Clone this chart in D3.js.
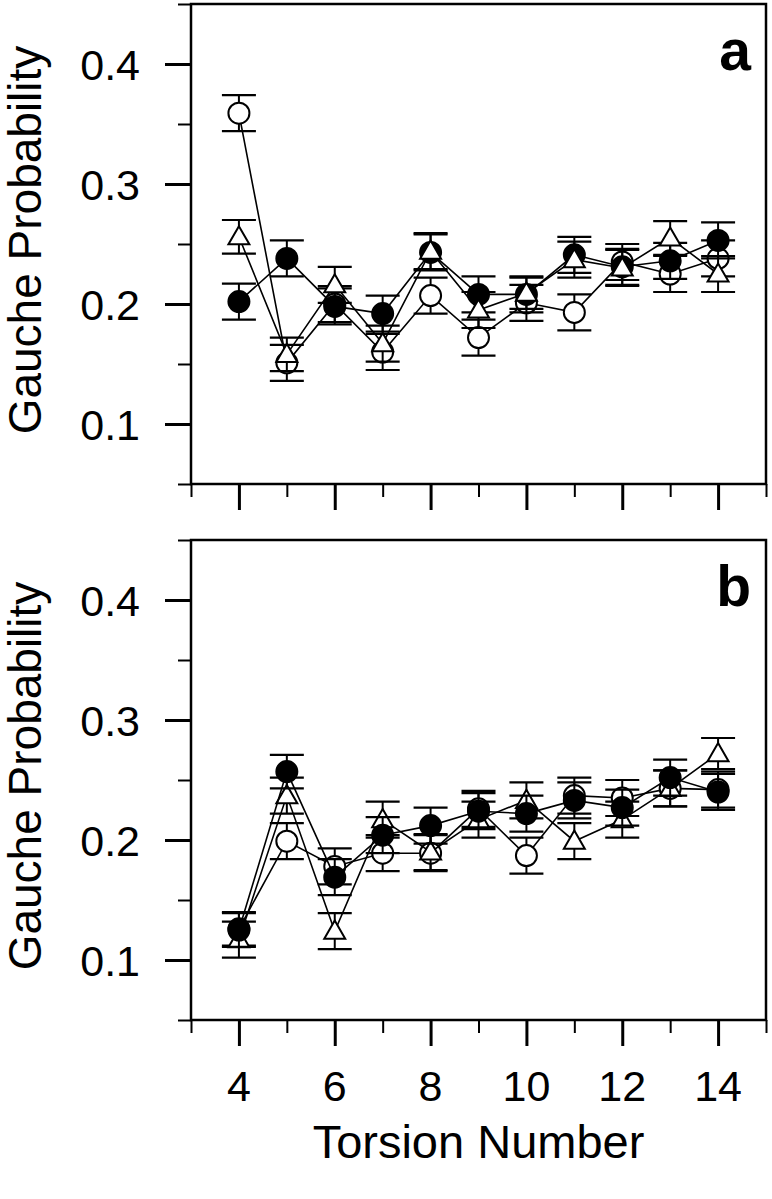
<!DOCTYPE html>
<html>
<head>
<meta charset="utf-8">
<script src="https://cdn.jsdelivr.net/npm/d3@7"></script>
<style>
html,body{margin:0;padding:0;background:#fff;}
svg{display:block;}
text{font-family:"Liberation Sans", Arial, sans-serif;fill:#000;}
</style>
</head>
<body>
<svg id="chart" width="772" height="1199"></svg>
<script>
// ---------------- data ----------------
const torsion = [4,5,6,7,8,9,10,11,12,13,14];

const aFilled = [0.202,0.238,0.198,0.192,0.243,0.208,0.208,0.241,0.231,0.236,0.253];
const aOpen   = [0.359,0.151,0.200,0.160,0.207,0.172,0.201,0.193,0.235,0.225,0.238];
const aTri    = [0.256,0.158,0.216,0.167,0.244,0.195,0.209,0.237,0.230,0.255,0.225];
const aFilledErr = [0.015,0.015,0.015,0.015,0.015,0.015,0.015,0.015,0.015,0.015,0.015];
const aOpenErr   = [0.015,0.015,0.015,0.015,0.015,0.015,0.015,0.015,0.015,0.015,0.015];
const aTriErr    = [0.014,0.014,0.015,0.015,0.015,0.015,0.013,0.015,0.015,0.014,0.015];

const bFilled = [0.125,0.257,0.169,0.204,0.212,0.224,0.222,0.233,0.227,0.252,0.240];
const bOpen   = [0.126,0.199,0.178,0.189,0.189,0.226,0.187,0.237,0.235,0.243,0.242];
const bTri    = [0.117,0.237,0.124,0.217,0.190,0.217,0.233,0.199,0.217,0.243,0.272];
const bFilledErr = [0.014,0.014,0.015,0.015,0.015,0.015,0.015,0.015,0.015,0.015,0.015];
const bOpenErr   = [0.014,0.015,0.015,0.015,0.015,0.015,0.015,0.015,0.015,0.015,0.015];
const bTriErr    = [0.015,0.015,0.015,0.015,0.015,0.015,0.015,0.015,0.015,0.015,0.013];

const xMajorTicks = [4,6,8,10,12,14];
const xMinorTicks = [3,5,7,9,11,13,15];
const yMajorTicks = [0.1,0.2,0.3,0.4];
const yMinorTicks = [0.05,0.15,0.25,0.35,0.45];
const yTitle = "Gauche Probability";
const xTitle = "Torsion Number";

// ---------------- layout ----------------
const svg = d3.select("#chart");
const L = 191, R = 766;
const x = d3.scaleLinear().domain([3,15]).range([L,R]);

const panels = [
  {label:"a", top:4, bottom:484,
   series:[
     {vals:aOpen, err:aOpenErr, shape:"open"},
     {vals:aFilled, err:aFilledErr, shape:"filled"},
     {vals:aTri, err:aTriErr, shape:"tri"}
   ], showLabels:false},
  {label:"b", top:540, bottom:1020,
   series:[
     {vals:bOpen, err:bOpenErr, shape:"open"},
     {vals:bTri, err:bTriErr, shape:"tri"},
     {vals:bFilled, err:bFilledErr, shape:"filled"}
   ], showLabels:true}
];

const triSym = d3.symbol().type(d3.symbolTriangle).size(190);

panels.forEach(p => {
  const y = d3.scaleLinear().domain([0.05,0.45]).range([p.bottom,p.top]);
  const g = svg.append("g");

  // y axis major
  const yMaj = g.append("g").attr("transform",`translate(${L},0)`)
    .call(d3.axisLeft(y).tickValues(yMajorTicks).tickSize(26).tickFormat(d3.format(".1f")).tickPadding(25));
  yMaj.select(".domain").remove();
  yMaj.selectAll("line").attr("stroke","#000").attr("stroke-width",3);
  yMaj.selectAll("text").style("font-size","43px").attr("dy","0.36em");

  const yMin = g.append("g").attr("transform",`translate(${L},0)`)
    .call(d3.axisLeft(y).tickValues(yMinorTicks).tickSize(13).tickFormat(""));
  yMin.select(".domain").remove();
  yMin.selectAll("line").attr("stroke","#000").attr("stroke-width",2);

  // x axis major/minor
  const xMaj = g.append("g").attr("transform",`translate(0,${p.bottom})`)
    .call(d3.axisBottom(x).tickValues(xMajorTicks).tickSize(26).tickFormat(""));
  xMaj.select(".domain").remove();
  xMaj.selectAll("line").attr("stroke","#000").attr("stroke-width",3);

  const xMin = g.append("g").attr("transform",`translate(0,${p.bottom})`)
    .call(d3.axisBottom(x).tickValues(xMinorTicks).tickSize(13).tickFormat(""));
  xMin.select(".domain").remove();
  xMin.selectAll("line").attr("stroke","#000").attr("stroke-width",2);

  if (p.showLabels) {
    g.selectAll(".xlab").data(xMajorTicks).enter().append("text")
      .attr("x", d => x(d)).attr("y", p.bottom + 81)
      .attr("text-anchor","middle").style("font-size","43px").text(d => d);
  }

  // frame
  g.append("rect").attr("x",L).attr("y",p.top).attr("width",R-L).attr("height",p.bottom-p.top)
    .attr("fill","none").attr("stroke","#000").attr("stroke-width",2.5);

  // y title
  const cy = (p.top+p.bottom)/2 - 4;
  g.append("text").attr("transform",`translate(41,${cy}) rotate(-90)`)
    .attr("text-anchor","middle").style("font-size","46px").text(yTitle);

  // panel letter
  g.append("text").attr("x",751).attr("y",p.top+66).attr("text-anchor","end")
    .style("font-size","57px").style("font-weight","bold").text(p.label);

  // series
  const line = d3.line().x((d,i)=>x(torsion[i])).y(d=>y(d));
  p.series.forEach(s => {
    const sg = g.append("g");
    // error bars
    s.vals.forEach((v,i) => {
      const cx = x(torsion[i]);
      const y1 = y(v + s.err[i]), y2 = y(v - s.err[i]);
      sg.append("line").attr("x1",cx).attr("x2",cx).attr("y1",y1).attr("y2",y2)
        .attr("stroke","#000").attr("stroke-width",2);
      [y1,y2].forEach(yy => sg.append("line").attr("x1",cx-17).attr("x2",cx+17)
        .attr("y1",yy).attr("y2",yy).attr("stroke","#000").attr("stroke-width",2.2));
    });
    sg.append("path").datum(s.vals).attr("d",line).attr("fill","none")
      .attr("stroke","#000").attr("stroke-width",1.6);
    s.vals.forEach((v,i) => {
      const cx = x(torsion[i]), cyy = y(v);
      if (s.shape === "tri") {
        sg.append("path").attr("d",triSym()).attr("transform",`translate(${cx},${cyy+1.5})`)
          .attr("fill","#fff").attr("stroke","#000").attr("stroke-width",2);
      } else {
        sg.append("circle").attr("cx",cx).attr("cy",cyy).attr("r",10.5)
          .attr("fill", s.shape==="filled" ? "#000" : "#fff")
          .attr("stroke","#000").attr("stroke-width",2);
      }
    });
  });
});

svg.append("text").attr("x",(L+R)/2).attr("y",1158).attr("text-anchor","middle")
  .style("font-size","47px").text(xTitle);
</script>
</body>
</html>
